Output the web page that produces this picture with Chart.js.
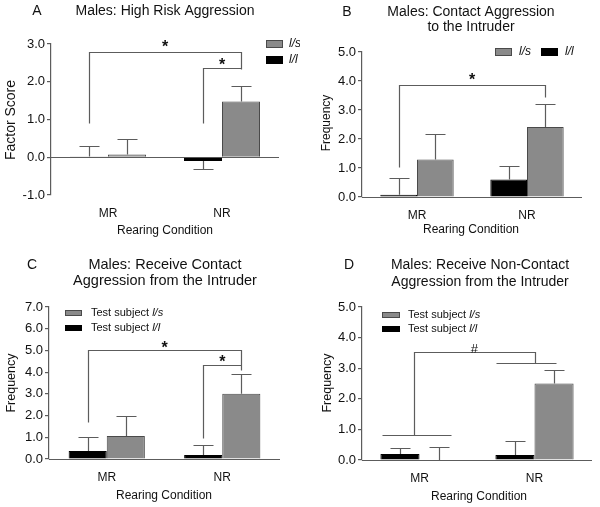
<!DOCTYPE html>
<html>
<head>
<meta charset="utf-8">
<script src="https://cdn.jsdelivr.net/npm/chart.js@4.4.1/dist/chart.umd.min.js"></script>
<style>
  html, body { margin: 0; padding: 0; background: #ffffff; }
  #wrap { position: relative; width: 600px; height: 507px; overflow: hidden; }
  canvas { position: absolute; }
</style>
</head>
<body>
<div id="wrap">
  <canvas id="cA" width="300" height="250" style="left:0px;top:0px;width:300px;height:250px"></canvas>
  <canvas id="cB" width="300" height="250" style="left:300px;top:0px;width:300px;height:250px"></canvas>
  <canvas id="cC" width="300" height="257" style="left:0px;top:250px;width:300px;height:257px"></canvas>
  <canvas id="cD" width="300" height="257" style="left:300px;top:250px;width:300px;height:257px"></canvas>
</div>
<script>
// ---------------- DATA ----------------
const categories = ['MR', 'NR'];
const seriesNames = ['l/l', 'l/s'];
const legendPrefix = 'Test subject ';

// A: High Risk Aggression (factor score)
const highRisk_ll = [0.02, -0.10];
const highRisk_ll_sem = [0.27, 0.21];
const highRisk_ls = [0.07, 1.48];
const highRisk_ls_sem = [0.42, 0.40];
const highRisk_yTicks = [-1.0, 0.0, 1.0, 2.0, 3.0];

// B: Contact Aggression to the Intruder (frequency)
const contact_ll = [0.08, 0.60];
const contact_ll_sem = [0.58, 0.46];
const contact_ls = [1.29, 2.41];
const contact_ls_sem = [0.87, 0.81];
const contact_yTicks = [0.0, 1.0, 2.0, 3.0, 4.0, 5.0];

// C: Receive Contact Aggression from the Intruder (frequency)
const recvContact_ll = [0.37, 0.18];
const recvContact_ll_sem = [0.63, 0.47];
const recvContact_ls = [1.06, 3.00];
const recvContact_ls_sem = [0.94, 0.90];
const recvContact_yTicks = [0.0, 1.0, 2.0, 3.0, 4.0, 5.0, 6.0, 7.0];

// D: Receive Non-Contact Aggression from the Intruder (frequency)
const recvNonContact_ll = [0.20, 0.16];
const recvNonContact_ll_sem = [0.20, 0.47];
const recvNonContact_ls = [0.00, 2.50];
const recvNonContact_ls_sem = [0.44, 0.43];
const recvNonContact_yTicks = [0.0, 1.0, 2.0, 3.0, 4.0, 5.0];

// significance brackets: points are [category index, offset in bar widths, value]
const highRisk_sig = [
  { pts: [[0, -0.5, 0.92], [0, -0.5, 2.80], [1, 0.5, 2.80], [1, 0.5, 2.33]], mark: '*', markAt: 3.03 },
  { pts: [[1, -0.5, 0.92], [1, -0.5, 2.37], [1, 0.5, 2.37]], mark: '*', markAt: 2.56 }
];
const contact_sig = [
  { pts: [[0, -0.5, 1.03], [0, -0.5, 3.87], [1, 0.5, 3.87], [1, 0.5, 3.45]], mark: '*', markAt: 4.16 }
];
const recvContact_sig = [
  { pts: [[0, -0.5, 1.72], [0, -0.5, 5.00], [1, 0.5, 5.00], [1, 0.5, 4.10]], mark: '*', markAt: 5.29 },
  { pts: [[1, -0.5, 0.95], [1, -0.5, 4.33], [1, 0.5, 4.33]], mark: '*', markAt: 4.64 }
];
const recvNonContact_sig = [
  { pts: [[0, -0.96, 0.82], [0, 0.81, 0.82]] },
  { pts: [[0, -0.13, 0.82], [0, -0.13, 3.52], [1, 0, 3.52], [1, 0, 3.17]], mark: '#', markAt: 3.64 },
  { pts: [[1, -0.98, 3.17], [1, 0.54, 3.17]] }
];

// ---------------- STYLE ----------------
const FONT = '"Liberation Sans", Arial, Helvetica, sans-serif';
const TEXT = '#111111';
const LINE = '#5c5c5c';
const GRAY_FILL = '#8a8a8a';
const GRAY_EDGE = '#4a4a4a';

function makePanel(cfg) {
  const canvas = document.getElementById(cfg.id);
  const W = canvas.width, H = canvas.height;
  const a = cfg.area;
  const yTicks = cfg.yTicks;

  function barWidth(chart) {
    const m = chart.getDatasetMeta(0);
    return m.data[0].width;
  }
  function xOf(chart, spec) {
    return chart.scales.x.getPixelForValue(spec[0]) + spec[1] * barWidth(chart);
  }

  const plugin = {
    id: 'panel_' + cfg.id,
    beforeDatasetsDraw(chart) {
      const ctx = chart.ctx, ca = chart.chartArea, y = chart.scales.y;
      const y0 = Math.round(y.getPixelForValue(0)) + 0.5;
      ctx.save();
      ctx.strokeStyle = LINE; ctx.lineWidth = 1.2;
      ctx.beginPath(); ctx.moveTo(ca.left, y0); ctx.lineTo(ca.right, y0); ctx.stroke();
      ctx.restore();
    },
    afterDatasetsDraw(chart) {
      const ctx = chart.ctx, y = chart.scales.y;
      ctx.save();
      ctx.strokeStyle = LINE; ctx.lineWidth = 1.2;
      // error bars
      cfg.series.forEach((s, di) => {
        const meta = chart.getDatasetMeta(di);
        s.values.forEach((v, i) => {
          const e = s.errors[i];
          const sign = v < 0 ? -1 : 1;
          const x = Math.round(meta.data[i].x) + 0.5;
          const yA = y.getPixelForValue(v);
          const yB = Math.round(y.getPixelForValue(v + sign * e)) + 0.5;
          ctx.beginPath();
          ctx.moveTo(x, yA); ctx.lineTo(x, yB);
          ctx.moveTo(x - 10, yB); ctx.lineTo(x + 10, yB);
          ctx.stroke();
        });
      });
      // significance brackets
      cfg.sig.forEach(b => {
        ctx.beginPath();
        b.pts.forEach((p, k) => {
          const px = Math.round(xOf(chart, p)) + 0.5;
          const py = Math.round(y.getPixelForValue(p[2])) + 0.5;
          if (k === 0) ctx.moveTo(px, py); else ctx.lineTo(px, py);
        });
        ctx.stroke();
        if (b.mark) {
          const first = b.pts[0], last = b.pts[b.pts.length - 1];
          const mx = (xOf(chart, first) + xOf(chart, last)) / 2;
          const my = y.getPixelForValue(b.markAt);
          ctx.fillStyle = TEXT;
          ctx.textAlign = 'center';
          ctx.textBaseline = 'alphabetic';
          if (b.mark === '*') {
            ctx.font = 'bold 16px ' + FONT;
            ctx.fillText(b.mark, mx, my + 0.57 * 16);
          } else {
            ctx.font = '13px ' + FONT;
            ctx.fillText(b.mark, mx, my + 0.36 * 13);
          }
        }
      });
      ctx.restore();
    },
    afterDraw(chart) {
      const ctx = chart.ctx;
      ctx.save();
      ctx.fillStyle = TEXT;
      ctx.textBaseline = 'middle';
      // panel letter
      ctx.textAlign = 'center';
      ctx.font = cfg.letter.size + 'px ' + FONT;
      ctx.fillText(cfg.letter.t, cfg.letter.x, cfg.letter.y);
      // title
      ctx.font = cfg.title.size + 'px ' + FONT;
      cfg.title.lines.forEach((ln, k) => ctx.fillText(ln, cfg.title.x, cfg.title.y[k]));
      // x title
      ctx.font = cfg.xTitle.size + 'px ' + FONT;
      ctx.fillText(cfg.xTitle.t, cfg.xTitle.x, cfg.xTitle.y);
      // y title
      ctx.save();
      ctx.translate(cfg.yTitle.x, cfg.yTitle.y);
      ctx.rotate(-Math.PI / 2);
      ctx.font = cfg.yTitle.size + 'px ' + FONT;
      ctx.fillText(cfg.yTitle.t, 0, 0);
      ctx.restore();
      // legend
      ctx.textAlign = 'left';
      cfg.legend.forEach(it => {
        ctx.fillStyle = it.fill;
        ctx.fillRect(it.x, it.y, it.w, it.h);
        ctx.strokeStyle = it.stroke; ctx.lineWidth = 1;
        ctx.strokeRect(it.x + 0.5, it.y + 0.5, it.w - 1, it.h - 1);
        ctx.fillStyle = TEXT;
        let tx = it.tx;
        const ty = it.y + it.h / 2;
        it.parts.forEach(([txt, italic]) => {
          ctx.font = (italic ? 'italic ' : '') + it.size + 'px ' + FONT;
          ctx.fillText(txt, tx, ty);
          tx += ctx.measureText(txt).width;
        });
      });
      ctx.restore();
    }
  };

  return new Chart(canvas, {
    type: 'bar',
    data: {
      labels: categories,
      datasets: [
        { label: seriesNames[0], data: cfg.series[0].values, backgroundColor: '#000000', borderColor: '#000000', borderWidth: 1 },
        { label: seriesNames[1], data: cfg.series[1].values, backgroundColor: GRAY_FILL, borderColor: GRAY_EDGE, borderWidth: 1 }
      ]
    },
    options: {
      responsive: false,
      animation: false,
      devicePixelRatio: 1,
      layout: { padding: { left: 0, top: a.t, right: W - a.r, bottom: 0 } },
      datasets: { bar: { categoryPercentage: cfg.catPct, barPercentage: 1 } },
      plugins: { legend: { display: false }, tooltip: { enabled: false }, title: { display: false } },
      scales: {
        x: {
          grid: { display: false, drawTicks: false },
          border: { display: false },
          ticks: { font: { family: FONT, size: 12 }, color: TEXT, padding: 11 },
          afterFit: s => { s.height = H - a.b; }
        },
        y: {
          min: yTicks[0],
          max: yTicks[yTicks.length - 1],
          afterBuildTicks: s => { s.ticks = yTicks.map(v => ({ value: v })); },
          ticks: { font: { family: FONT, size: 13 }, color: TEXT, padding: 2, callback: v => Number(v).toFixed(1) },
          grid: { drawOnChartArea: false, drawTicks: true, tickLength: 4, color: LINE, lineWidth: 1.2 },
          border: { display: true, color: LINE, width: 1.2 },
          afterFit: s => { s.width = a.l; }
        }
      }
    },
    plugins: [plugin]
  });
}

function legendItem(fill, stroke, x, y, w, h, tx, size, parts) {
  return { fill, stroke, x, y, w, h, tx, size, parts };
}

makePanel({
  id: 'cA',
  area: { l: 51, t: 44, r: 279, b: 195 },
  yTicks: highRisk_yTicks,
  catPct: 0.667,
  series: [
    { values: highRisk_ll, errors: highRisk_ll_sem },
    { values: highRisk_ls, errors: highRisk_ls_sem }
  ],
  sig: highRisk_sig,
  letter: { t: 'A', x: 37, y: 11, size: 14 },
  title: { lines: ['Males: High Risk Aggression'], x: 165, y: [11], size: 14 },
  xTitle: { t: 'Rearing Condition', x: 165, y: 231, size: 12 },
  yTitle: { t: 'Factor Score', x: 11, y: 120, size: 14 },
  legend: [
    legendItem(GRAY_FILL, GRAY_EDGE, 266, 40, 17, 8, 289, 12, [[seriesNames[1], true]]),
    legendItem('#000000', '#000000', 266, 56, 17, 8, 289, 12, [[seriesNames[0], true]])
  ]
});

makePanel({
  id: 'cB',
  area: { l: 62, t: 52, r: 282, b: 197 },
  yTicks: contact_yTicks,
  catPct: 0.667,
  series: [
    { values: contact_ll, errors: contact_ll_sem },
    { values: contact_ls, errors: contact_ls_sem }
  ],
  sig: contact_sig,
  letter: { t: 'B', x: 47, y: 12, size: 14 },
  title: { lines: ['Males: Contact Aggression', 'to the Intruder'], x: 171, y: [12, 27], size: 14 },
  xTitle: { t: 'Rearing Condition', x: 171, y: 230, size: 12 },
  yTitle: { t: 'Frequency', x: 27, y: 123, size: 12 },
  legend: [
    legendItem(GRAY_FILL, GRAY_EDGE, 195, 48, 17, 8, 219, 12, [[seriesNames[1], true]]),
    legendItem('#000000', '#000000', 241, 48, 17, 8, 265, 12, [[seriesNames[0], true]])
  ]
});

makePanel({
  id: 'cC',
  area: { l: 49, t: 57, r: 280, b: 209 },
  yTicks: recvContact_yTicks,
  catPct: 0.66,
  series: [
    { values: recvContact_ll, errors: recvContact_ll_sem },
    { values: recvContact_ls, errors: recvContact_ls_sem }
  ],
  sig: recvContact_sig,
  letter: { t: 'C', x: 32, y: 15, size: 14 },
  title: { lines: ['Males: Receive Contact', 'Aggression from the Intruder'], x: 165, y: [15, 31], size: 14.5 },
  xTitle: { t: 'Rearing Condition', x: 164, y: 246, size: 12 },
  yTitle: { t: 'Frequency', x: 12, y: 133, size: 12.5 },
  legend: [
    legendItem(GRAY_FILL, GRAY_EDGE, 65, 60, 17, 6, 91, 11, [[legendPrefix, false], [seriesNames[1], true]]),
    legendItem('#000000', '#000000', 65, 75, 17, 6, 91, 11, [[legendPrefix, false], [seriesNames[0], true]])
  ]
});

makePanel({
  id: 'cD',
  area: { l: 62, t: 57, r: 292, b: 210 },
  yTicks: recvNonContact_yTicks,
  catPct: 0.68,
  series: [
    { values: recvNonContact_ll, errors: recvNonContact_ll_sem },
    { values: recvNonContact_ls, errors: recvNonContact_ls_sem }
  ],
  sig: recvNonContact_sig,
  letter: { t: 'D', x: 49, y: 15, size: 14 },
  title: { lines: ['Males: Receive Non-Contact', 'Aggression from the Intruder'], x: 180, y: [15, 32], size: 14 },
  xTitle: { t: 'Rearing Condition', x: 179, y: 247, size: 12 },
  yTitle: { t: 'Frequency', x: 28, y: 133, size: 12.5 },
  legend: [
    legendItem(GRAY_FILL, GRAY_EDGE, 82, 62, 18, 6, 108, 11, [[legendPrefix, false], [seriesNames[1], true]]),
    legendItem('#000000', '#000000', 82, 76, 18, 6, 108, 11, [[legendPrefix, false], [seriesNames[0], true]])
  ]
});
</script>
</body>
</html>
